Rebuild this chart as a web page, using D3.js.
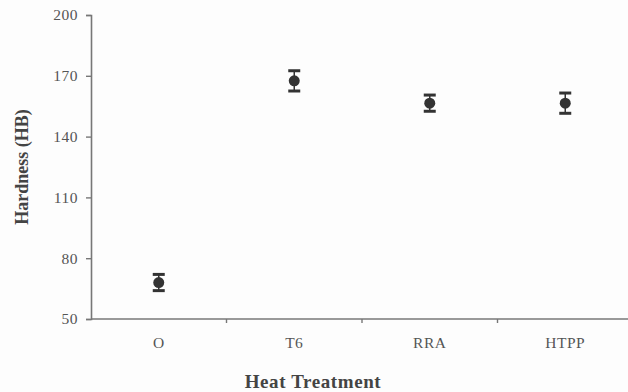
<!DOCTYPE html>
<html>
<head>
<meta charset="utf-8">
<script src="https://cdn.jsdelivr.net/npm/d3@7"></script>
<style>
    html, body { margin: 0; padding: 0; background: #fdfdfd; }
    svg { display: block; }
    text { font-family: "Liberation Serif", "DejaVu Serif", serif; }
</style>
</head>
<body>
<svg id="chart" width="628" height="392"></svg>
<script>
// Hardness by heat treatment (mean and error)
const treatments = ["O", "T6", "RRA", "HTPP"];
const hardness = [68, 167.5, 156.5, 156.5];
const errors = [4, 5, 4, 5];
const yTicks = [50, 80, 110, 140, 170, 200];

const svg = d3.select("#chart");
const margin = { left: 91, right: -5, top: 15, bottom: 73 };
const width = 628, height = 392;

const x = d3.scaleBand()
    .domain(treatments)
    .range([margin.left, width - margin.right]);

const y = d3.scaleLinear()
    .domain([50, 200])
    .range([height - margin.bottom, margin.top]);

const axisColor = "#777";
const labelColor = "#555";

// y axis
const yAxis = svg.append("g")
    .attr("transform", `translate(${margin.left},0)`)
    .call(d3.axisLeft(y).tickValues(yTicks).tickSize(5).tickPadding(8));
yAxis.select(".domain").attr("stroke", axisColor).attr("stroke-width", 1.6);
yAxis.selectAll(".tick line").attr("stroke", axisColor).attr("stroke-width", 1.4);
yAxis.selectAll(".tick text")
    .attr("fill", labelColor)
    .style("font-size", "15.5px")
    .style("letter-spacing", "0.5px");

// x axis, ticks on band boundaries
const xAxisG = svg.append("g")
    .attr("transform", `translate(0,${y(50)})`);
xAxisG.append("line")
    .attr("x1", margin.left).attr("x2", width)
    .attr("stroke", axisColor).attr("stroke-width", 1.6);
xAxisG.selectAll("line.bt")
    .data(treatments.slice(1))
    .join("line")
    .attr("class", "bt")
    .attr("x1", d => x(d)).attr("x2", d => x(d))
    .attr("y1", 0).attr("y2", 4)
    .attr("stroke", axisColor).attr("stroke-width", 1.4);
xAxisG.selectAll("text")
    .data(treatments)
    .join("text")
    .attr("x", d => x(d) + x.bandwidth() / 2)
    .attr("y", 29)
    .attr("text-anchor", "middle")
    .attr("fill", labelColor)
    .style("font-size", "15.5px")
    .style("letter-spacing", "0.5px")
    .text(d => d);

// axis titles
svg.append("text")
    .attr("x", 313).attr("y", 388)
    .attr("text-anchor", "middle")
    .attr("fill", "#444")
    .style("font-size", "19px")
    .style("font-weight", "bold")
    .style("letter-spacing", "0.6px")
    .text("Heat Treatment");

svg.append("text")
    .attr("transform", `translate(28,${(y(50) + y(200)) / 2}) rotate(-90)`)
    .attr("text-anchor", "middle")
    .attr("fill", "#444")
    .style("font-size", "18px")
    .style("font-weight", "bold")
    .text("Hardness (HB)");

// error bars and points
const data = treatments.map((t, i) => ({ t, v: hardness[i], e: errors[i] }));
const cx = d => x(d.t) + x.bandwidth() / 2;
const markColor = "#333";

const pts = svg.append("g");
pts.selectAll("line.err")
    .data(data)
    .join("line")
    .attr("class", "err")
    .attr("x1", cx).attr("x2", cx)
    .attr("y1", d => y(d.v + d.e)).attr("y2", d => y(d.v - d.e))
    .attr("stroke", markColor).attr("stroke-width", 1.5);

for (const side of [1, -1]) {
    pts.selectAll(`line.cap${side}`)
        .data(data)
        .join("line")
        .attr("class", `cap${side}`)
        .attr("x1", d => cx(d) - 6).attr("x2", d => cx(d) + 6)
        .attr("y1", d => y(d.v + side * d.e)).attr("y2", d => y(d.v + side * d.e))
        .attr("stroke", markColor).attr("stroke-width", 3);
}

pts.selectAll("circle")
    .data(data)
    .join("circle")
    .attr("cx", cx)
    .attr("cy", d => y(d.v))
    .attr("r", 5.5)
    .attr("fill", markColor);
</script>
</body>
</html>
